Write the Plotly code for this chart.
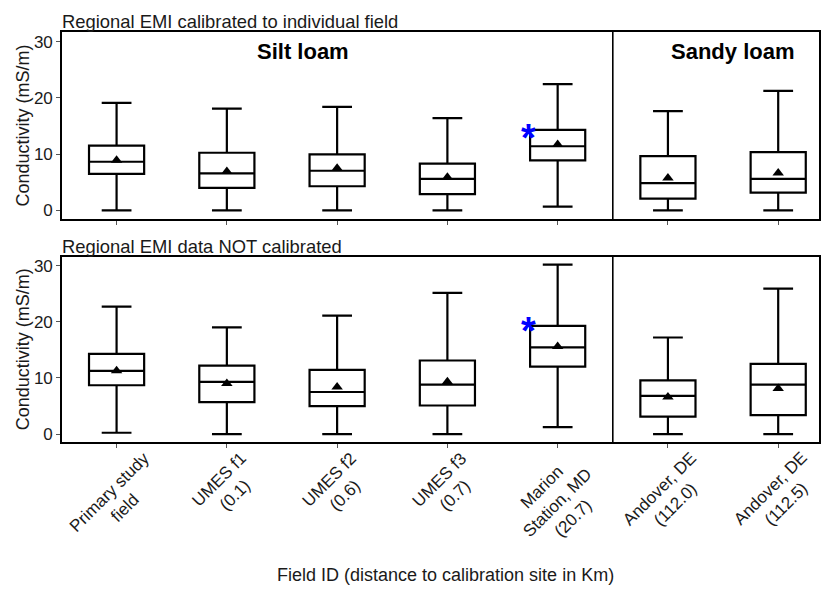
import plotly.graph_objects as go

# ---------------- data ----------------
categories = ["Primary study<br>field", "UMES f1<br>(0.1)", "UMES f2<br>(0.6)", "UMES f3<br>(0.7)",
              "Marion<br>Station, MD<br>(20.7)", "Andover, DE<br>(112.0)", "Andover, DE<br>(112.5)"]

cal_lower = [0.0, 0.0, 0.0, 0.0, 0.66, 0.0, 0.0]
cal_q1 = [6.5, 4.0, 4.3, 2.9, 8.9, 2.1, 3.15]
cal_median = [8.65, 6.6, 7.05, 5.6, 11.4, 4.85, 5.6]
cal_q3 = [11.5, 10.25, 9.95, 8.3, 14.3, 9.65, 10.35]
cal_upper = [19.1, 18.1, 18.4, 16.4, 22.45, 17.65, 21.25]
cal_mean = [8.9, 6.9, 7.5, 5.9, 11.7, 5.75, 6.65]

nocal_lower = [0.25, 0.0, 0.0, 0.0, 1.25, 0.0, 0.0]
nocal_q1 = [8.7, 5.7, 5.0, 5.1, 12.0, 3.1, 3.4]
nocal_median = [11.25, 9.3, 7.5, 8.8, 15.45, 6.8, 8.8]
nocal_q3 = [14.3, 12.2, 11.45, 13.1, 19.25, 9.55, 12.5]
nocal_upper = [22.7, 19.0, 21.1, 25.15, 30.15, 17.2, 25.9]
nocal_mean = [11.3, 9.0, 8.4, 9.3, 15.6, 6.6, 8.1]

star_field = 4          # Marion Station
star_y = [13.9, 19.4]   # asterisk heights (top, bottom panel)

panel_titles = ["Regional EMI calibrated to individual field", "Regional EMI data NOT calibrated"]
soil_labels = ["Silt loam", "Sandy loam"]
soil_label_x = [1.69, 5.59]
soil_label_y = 28.2

y_title = "Conductivity (mS/m)"
x_title = "Field ID (distance to calibration site in Km)"
y_ticks = [0, 10, 20, 30]

# ---------------- figure ----------------
FONT = "Liberation Sans, Arial, sans-serif"
TXT = "#1a1a1a"
xpos = list(range(len(categories)))

fig = go.Figure()

panels = [
    ("x", "y", cal_lower, cal_q1, cal_median, cal_q3, cal_upper, cal_mean),
    ("x2", "y2", nocal_lower, nocal_q1, nocal_median, nocal_q3, nocal_upper, nocal_mean),
]
for xr, yr, lo, q1, med, q3, up, mn in panels:
    fig.add_trace(go.Box(
        x=xpos, lowerfence=lo, q1=q1, median=med, q3=q3, upperfence=up,
        xaxis=xr, yaxis=yr,
        width=0.5, whiskerwidth=0.54,
        fillcolor="white", line=dict(color="black", width=2.2),
        boxpoints=False, hoverinfo="skip", showlegend=False,
    ))
    fig.add_trace(go.Scatter(
        x=xpos, y=mn, mode="markers", xaxis=xr, yaxis=yr,
        marker=dict(symbol="triangle-up", size=10, color="black"),
        hoverinfo="skip", showlegend=False,
    ))

axis_common = dict(
    showline=True, linecolor="black", linewidth=1.6, mirror=True,
    ticks="outside", ticklen=4, tickcolor="#555", tickwidth=1,
    showgrid=False, zeroline=False,
    tickfont=dict(family=FONT, size=17, color=TXT),
)
ytitle = dict(text=y_title, font=dict(family=FONT, size=18, color=TXT), standoff=0)

fig.update_layout(
    width=822, height=593,
    margin=dict(l=62, r=1, t=32, b=151),
    plot_bgcolor="white", paper_bgcolor="white",
    font=dict(family=FONT, color=TXT),
    xaxis=dict(domain=[0, 1], anchor="y", range=[-0.495, 6.37],
               tickvals=xpos, showticklabels=False, **axis_common),
    yaxis=dict(domain=[0.5442, 1], anchor="x", range=[-1.5, 31.7], tickvals=y_ticks,
               title=ytitle, **axis_common),
    xaxis2=dict(domain=[0, 1], anchor="y2", range=[-0.495, 6.37],
                tickvals=xpos, showticklabels=False, **axis_common),
    yaxis2=dict(domain=[0, 0.4523], anchor="x2", range=[-1.4, 31.6], tickvals=y_ticks,
                title=ytitle, **axis_common),
)

# rotated category labels (centred lines, as in the original)
for xp, lab in zip(xpos, categories):
    fig.add_annotation(text=lab, x=xp, xref="x2", y=0, yref="paper",
                       xanchor="center", yanchor="top", yshift=-4, textangle=-45,
                       align="center", showarrow=False,
                       font=dict(family=FONT, size=17, color=TXT))

# x axis title
fig.add_annotation(text=x_title, x=0.5, xref="paper", y=0, yref="paper",
                   xanchor="center", yanchor="middle", yshift=-133, xshift=5, showarrow=False,
                   font=dict(family=FONT, size=18, color=TXT))

# divider between soil types
for xr, yr in [("x", "y"), ("x2", "y2")]:
    fig.add_shape(type="line", xref=xr, yref=yr + " domain", x0=4.5, x1=4.5, y0=0, y1=1,
                  line=dict(color="black", width=1.6))

# panel titles
for title, xr, yr in zip(panel_titles, ["x", "x2"], ["y", "y2"]):
    fig.add_annotation(text=title, xref=xr + " domain", yref=yr + " domain",
                       x=0, y=1, xanchor="left", yanchor="bottom", showarrow=False,
                       xshift=-2, yshift=-2.5,
                       font=dict(family=FONT, size=18.4, color=TXT))

# soil labels
for lab, lx in zip(soil_labels, soil_label_x):
    fig.add_annotation(text="<b>" + lab + "</b>", x=lx, y=soil_label_y, xref="x", yref="y",
                       showarrow=False, font=dict(family=FONT, size=22, color="black"))

# asterisks
for sy, xr, yr in zip(star_y, ["x", "x2"], ["y", "y2"]):
    fig.add_annotation(text="<b>*</b>", x=star_field - 0.26, y=sy, xref=xr, yref=yr,
                       showarrow=False, yshift=-6, font=dict(family=FONT, size=38, color="blue"))

fig.write_html("out.html")
